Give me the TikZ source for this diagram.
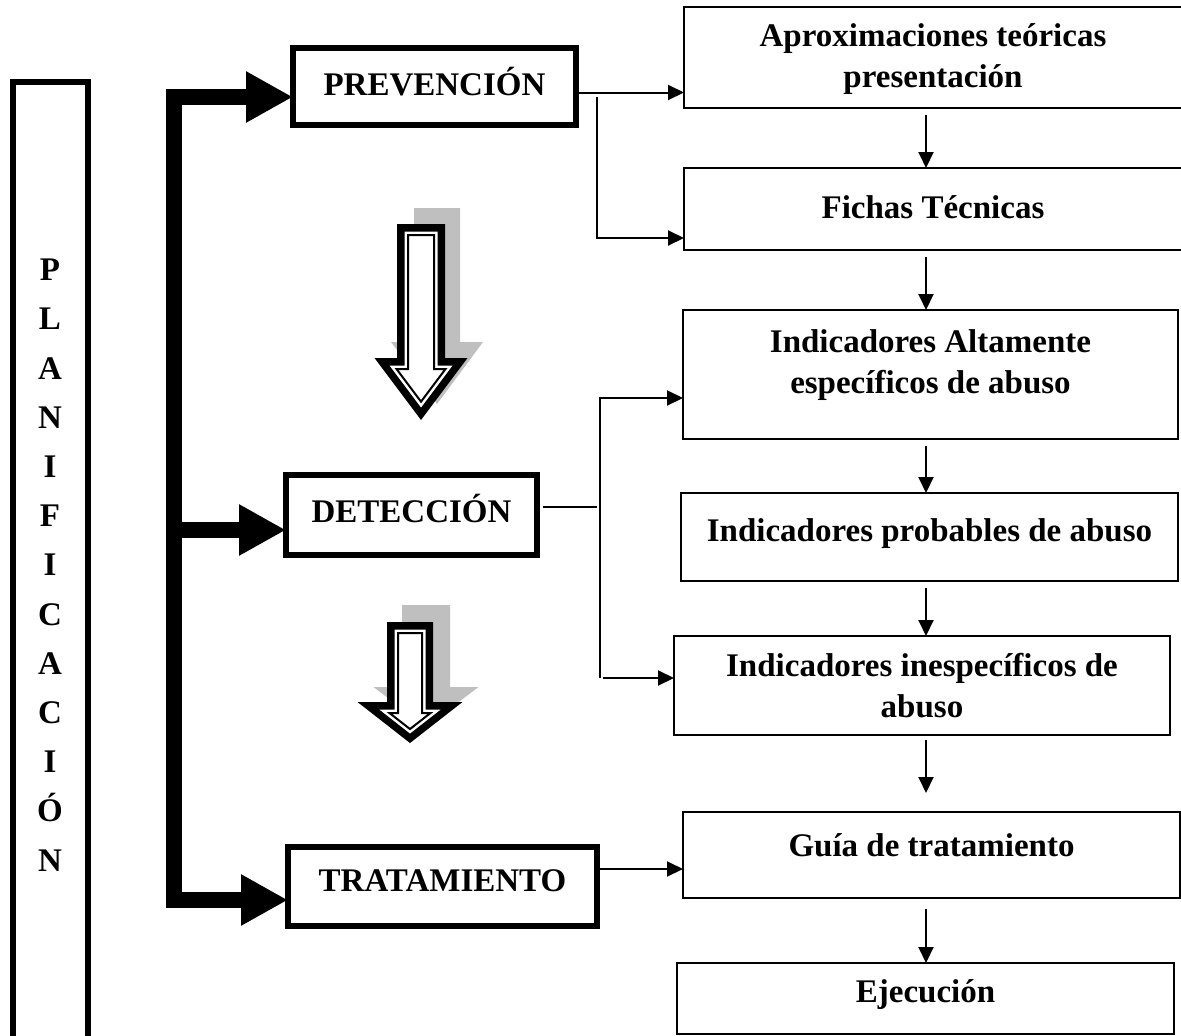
\documentclass[tikz,border=0pt]{standalone}
\usepackage{fontspec}
\setmainfont{Liberation Serif}
\usetikzlibrary{arrows.meta}
\definecolor{shadowgray}{RGB}{191,191,191}
\newcommand\harrowshape[8]{%
  \pgfmathsetmacro\haH{(#6)-(#4)}%
  \pgfmathsetmacro\haL{sqrt((#5)*(#5)+\haH*\haH)}%
  \pgfmathsetmacro\haC{(#7)*(\haL+(#5))/\haH}%
  \pgfmathsetmacro\haT{(#7)*\haL/(#5)}%
  \path[#8] ({#1-#2+#7},{#3+#7}) -- ({#1+#2-#7},{#3+#7}) -- ({#1+#2-#7},{#4+#7})
    -- ({#1+#5-\haC},{#4+#7}) -- ({#1},{#6-\haT}) -- ({#1-#5+\haC},{#4+#7})
    -- ({#1-#2+#7},{#4+#7}) -- cycle;
}
\tikzset{
  txt/.style={font=\fontsize{33}{41}\selectfont\bfseries, align=center, inner sep=0pt},
  tbox/.style={draw, line width=2pt, inner sep=0pt, outer sep=0pt},
  bbox/.style={draw, line width=6pt, inner sep=0pt, outer sep=0pt},
  thinline/.style={line width=2pt},
  thinarrow/.style={line width=2pt, -{Triangle[length=16pt,width=15pt]}},
  bigarrow/.style={line width=16pt, miter limit=10, -{Triangle[length=47pt,width=48pt]}},
}
\begin{document}
\begin{tikzpicture}[x=1pt,y=-1pt]
\useasboundingbox (0,0) rectangle (1181,1036);
\clip (0,0) rectangle (1181,1036);
% left planificacion box
\node[bbox, minimum width=75pt, minimum height=978pt] (plan) at (50.5,571) {};
\node[txt, font=\fontsize{33}{49.2}\selectfont\bfseries] (planletters) at (50,565)
  {P\\L\\A\\N\\I\\F\\I\\C\\A\\C\\I\\Ó\\N};
% left boxes
\node[bbox, minimum width=283pt, minimum height=77pt] (prev) at (434.5,86.5) {};
\node[txt] (prevt) at ([yshift=4.5pt]prev.center) {PREVENCIÓN};
\node[bbox, minimum width=251pt, minimum height=80pt] (det) at (411.5,515) {};
\node[txt] (dett) at ([yshift=6pt]det.center) {DETECCIÓN};
\node[bbox, minimum width=309pt, minimum height=79pt] (trat) at (442.5,886.5) {};
\node[txt] (tratt) at ([yshift=5.5pt]trat.center) {TRATAMIENTO};
% right boxes
\node[tbox, minimum width=498pt, minimum height=101pt] (apro) at (933,57.5) {};
\node[txt] (aprot) at ([yshift=-1.5pt]apro.center) {Aproximaciones teóricas\\presentación};
\node[tbox, minimum width=498pt, minimum height=82pt] (fichas) at (933,209) {};
\node[txt] (fichast) at ([yshift=2pt]fichas.center) {Fichas Técnicas};
\node[tbox, minimum width=495pt, minimum height=129pt] (alta) at (930.5,374.5) {};
\node[txt] (altat) at ([yshift=9pt]alta.center) {Indicadores Altamente\\específicos de abuso};
\node[tbox, minimum width=497pt, minimum height=88pt] (prob) at (929.5,537) {};
\node[txt] (probt) at ([yshift=3pt]prob.center) {Indicadores probables de abuso};
\node[tbox, minimum width=496pt, minimum height=99pt] (ines) at (922,685.5) {};
\node[txt] (inest) at (ines.center) {Indicadores inespecíficos de\\abuso};
\node[tbox, minimum width=497pt, minimum height=86pt] (guia) at (931.5,855) {};
\node[txt] (guiat) at ([yshift=10pt]guia.center) {Guía de tratamiento};
\node[tbox, minimum width=497pt, minimum height=71pt] (ejec) at (925.5,998.5) {};
\node[txt] (eject) at ([yshift=3.5pt]ejec.center) {Ejecución};
% coordinates
\coordinate (ax) at (926,0);
\coordinate (vbot) at (174,900);
\coordinate (vmid) at (174,520);
\coordinate (vdet) at (170,530);
\coordinate (pv) at (597,97);
\coordinate (jd) at (597,507);
\coordinate (dbot) at (600,678);
% thick arrows
\draw[bigarrow] (vbot) |- ([yshift=-10.5pt]prev.west);
\draw[bigarrow] (vmid) |- ([yshift=-13.5pt]trat.west);
\draw[bigarrow] (vdet) -- (det.west |- vdet);
% prevencion connectors
\draw[thinarrow] ([yshift=-6pt]prev.east) -- ([yshift=-6pt]prev.east -| apro.west);
\draw[thinarrow] (pv) |- ([yshift=-29pt]fichas.west);
% deteccion connectors
\draw[thinline] ([shift={(6pt,8pt)}]det.east) -- (jd);
\draw[thinarrow] (dbot) |- ([yshift=-23.5pt]alta.west);
\draw[thinarrow] ([xshift=3pt]dbot) -- (ines.west |- dbot);
% tratamiento connector
\draw[thinarrow] ([yshift=17.5pt]trat.east) -- ([yshift=17.5pt]trat.east -| guia.west);
% vertical chain
\draw[thinarrow, shorten <=7pt] (apro.south -| ax) -- (fichas.north -| ax);
\draw[thinarrow, shorten <=7pt] (fichas.south -| ax) -- (alta.north -| ax);
\draw[thinarrow, shorten <=7pt] (alta.south -| ax) -- (prob.north -| ax);
\draw[thinarrow, shorten <=7pt] (prob.south -| ax) -- (ines.north -| ax);
\draw[thinarrow, shorten <=5pt, shorten >=19pt] (ines.south -| ax) -- (guia.north -| ax);
\draw[thinarrow, shorten <=11pt] (guia.south -| ax) -- (ejec.north -| ax);
% hollow arrows
\harrowshape{437}{23}{208}{342}{46}{404}{0}{fill=shadowgray}
\harrowshape{421}{24}{224}{358}{46.5}{420}{0}{fill=black}
\harrowshape{421}{24}{224}{358}{46.5}{420}{7.5}{fill=white}
\harrowshape{421}{24}{224}{358}{46.5}{420}{11}{draw=black,line width=2pt,fill=white,miter limit=10}
\harrowshape{426}{24}{605}{687}{52.5}{727}{0}{fill=shadowgray}
\harrowshape{410}{23}{622}{702}{52.5}{743}{0}{fill=black}
\harrowshape{410}{23}{622}{702}{52.5}{743}{7.5}{fill=white}
\harrowshape{410}{23}{622}{702}{52.5}{743}{11}{draw=black,line width=2pt,fill=white,miter limit=10}
\end{tikzpicture}
\end{document}
